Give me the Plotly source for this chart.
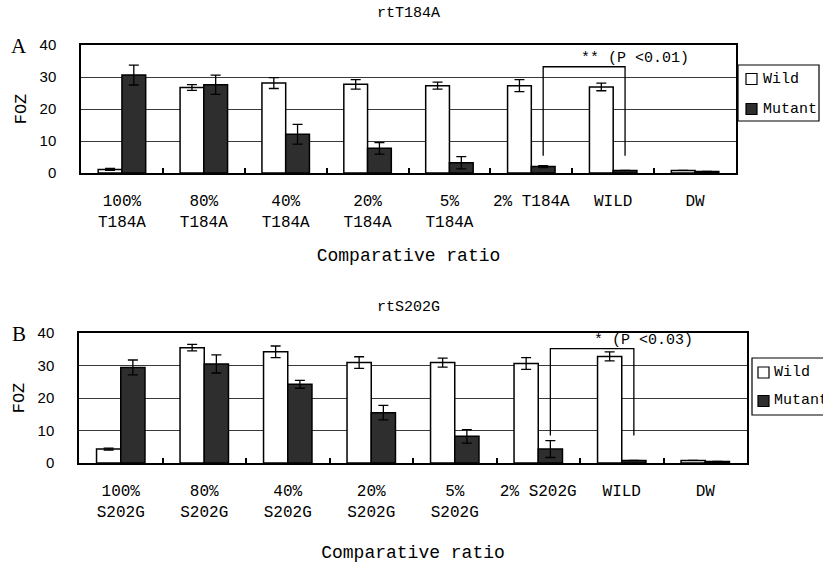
import plotly.graph_objects as go

# Categories (shared keys) and tick labels per panel
categories = ["100%", "80%", "40%", "20%", "5%", "2%", "WILD", "DW"]
labels_a = ["100%<br>T184A", "80%<br>T184A", "40%<br>T184A", "20%<br>T184A",
            "5%<br>T184A", "2% T184A", "WILD", "DW"]
labels_b = ["100%<br>S202G", "80%<br>S202G", "40%<br>S202G", "20%<br>S202G",
            "5%<br>S202G", "2% S202G", "WILD", "DW"]
series_names = ["Wild", "Mutant"]

# Panel A: rtT184A
wild_a = [1.1, 26.7, 28.1, 27.7, 27.3, 27.3, 26.9, 0.8]
wild_a_err = [0.3, 0.9, 1.7, 1.5, 1.1, 1.9, 1.2, 0.0]
mut_a = [30.6, 27.6, 12.1, 7.7, 3.2, 2.0, 0.8, 0.5]
mut_a_err = [3.1, 3.0, 3.1, 1.8, 1.9, 0.3, 0.0, 0.0]

# Panel B: rtS202G
wild_b = [4.3, 35.5, 34.2, 30.9, 30.9, 30.6, 32.8, 0.8]
wild_b_err = [0.3, 1.0, 1.8, 1.8, 1.4, 1.8, 1.4, 0.0]
mut_b = [29.4, 30.5, 24.2, 15.5, 8.2, 4.3, 0.8, 0.5]
mut_b_err = [2.3, 2.8, 1.2, 2.2, 2.1, 2.6, 0.0, 0.0]

# Significance brackets: (left category, right category, top, leg bottom, label, label y)
sig_a = ("2%", "WILD", 33.2, 5.4, "** (P <0.01)", 35.8)
sig_b = ("2%", "WILD", 35.2, 8.5, "* (P <0.03)", 37.6)

MONO = "Liberation Mono"
SANS = "Liberation Sans"
BARGAP = 0.42
W, H = 823, 565
WILD_FILL = "white"
MUT_FILL = "#2e2e2e"

fig = go.Figure()


def add_panel(wild, wild_err, mut, mut_err, xa, ya):
    fig.add_trace(go.Bar(
        x=categories, y=wild, name=series_names[0], xaxis=xa, yaxis=ya,
        marker=dict(color=WILD_FILL, line=dict(color="black", width=1.5)),
        error_y=dict(type="data", array=wild_err, color="black", thickness=1.3, width=5),
    ))
    fig.add_trace(go.Bar(
        x=categories, y=mut, name=series_names[1], xaxis=xa, yaxis=ya,
        marker=dict(color=MUT_FILL, line=dict(color="black", width=1.5)),
        error_y=dict(type="data", array=mut_err, color="black", thickness=1.3, width=5),
    ))


add_panel(wild_a, wild_a_err, mut_a, mut_a_err, "x", "y")
add_panel(wild_b, wild_b_err, mut_b, mut_b_err, "x2", "y2")

# centre offset of the Mutant bar inside its category slot
mut_off = (1 - BARGAP) / 4


def add_bracket(sig, xref, yref):
    left, right, top, bottom, text, ty = sig
    x0 = categories.index(left) + mut_off
    x1 = categories.index(right) + mut_off
    fig.add_shape(type="path", xref=xref, yref=yref,
                  path=f"M {x0} {bottom} L {x0} {top} L {x1} {top} L {x1} {bottom}",
                  line=dict(color="black", width=1.3))
    fig.add_annotation(x=(x0 + x1) / 2 + 0.62, y=ty, xref=xref, yref=yref, text=text,
                       xanchor="center", showarrow=False,
                       font=dict(family=MONO, size=15, color="black"))


add_bracket(sig_a, "x", "y")
add_bracket(sig_b, "x2", "y2")


def add_legend_box(left, top, right, bottom, sym_x, sym_y, text_x):
    """Framed key with a swatch and label per series (paper pixel positions)."""
    px = lambda v: v / W
    py = lambda v: 1 - v / H
    fig.add_shape(type="rect", xref="paper", yref="paper",
                  x0=px(left), x1=px(right), y0=py(bottom), y1=py(top),
                  line=dict(color="black", width=1.2), fillcolor="white")
    for name, fill, cy in zip(series_names, [WILD_FILL, MUT_FILL], sym_y):
        fig.add_shape(type="rect", xref="paper", yref="paper",
                      x0=px(sym_x), x1=px(sym_x + 11), y0=py(cy + 5.5), y1=py(cy - 5.5),
                      line=dict(color="black", width=1.2), fillcolor=fill)
        fig.add_annotation(text=name, x=px(text_x), y=py(cy), xref="paper", yref="paper",
                           xanchor="left", yanchor="middle", showarrow=False,
                           font=dict(family=MONO, size=15, color="black"))


add_legend_box(738, 65, 819, 121, 746, [79, 109], 761)
add_legend_box(752, 358, 840, 415, 758, [372.5, 401], 772)

axis_common_x = dict(
    type="category", range=[-0.5, 7.5], showline=True, linecolor="black", linewidth=1.5,
    mirror=True, ticks="inside", tickson="boundaries", ticklen=5, tickcolor="black",
    tickwidth=1.5, tickangle=0, tickfont=dict(family=MONO, size=16, color="black"),
    ticklabelstandoff=12, automargin=False, showgrid=False,
)
axis_common_y = dict(
    range=[0, 40], dtick=10, showline=True, linecolor="black", linewidth=1.5, mirror=True,
    showgrid=True, gridcolor="#3a3a3a", gridwidth=1, zeroline=False, ticks="",
    tickfont=dict(family=SANS, size=15, color="black"), ticklabelstandoff=20,
    automargin=False,
    title=dict(text="FOZ", font=dict(family=MONO, size=17, color="black"), standoff=9),
)
xtitle_font = dict(family=MONO, size=18, color="black")

fig.update_layout(
    width=W, height=H, margin=dict(l=0, r=0, t=0, b=0, autoexpand=False),
    paper_bgcolor="white", plot_bgcolor="white",
    barmode="group", bargap=BARGAP, bargroupgap=0,
    showlegend=False,
    xaxis=dict(axis_common_x, domain=[81 / W, 736 / W], anchor="y",
               tickmode="array", tickvals=categories, ticktext=labels_a,
               title=dict(text="Comparative ratio", font=xtitle_font, standoff=18)),
    yaxis=dict(axis_common_y, domain=[1 - 173 / H, 1 - 45 / H], anchor="x"),
    xaxis2=dict(axis_common_x, domain=[79 / W, 747 / W], anchor="y2",
                tickmode="array", tickvals=categories, ticktext=labels_b,
                title=dict(text="Comparative ratio", font=xtitle_font, standoff=25)),
    yaxis2=dict(axis_common_y, domain=[1 - 463 / H, 1 - 333 / H], anchor="x2"),
)

for text, x, y, fam, size in [
    ("rtT184A", 408, 14, MONO, 15),
    ("rtS202G", 408, 307, MONO, 15),
    ("A", 19, 46, "Liberation Serif", 21),
    ("B", 19, 334, "Liberation Serif", 21),
]:
    fig.add_annotation(text=text, x=x / W, y=1 - y / H, xref="paper", yref="paper",
                       xanchor="center", yanchor="middle", showarrow=False,
                       font=dict(family=fam, size=size, color="black"))

fig.write_html("out.html")
